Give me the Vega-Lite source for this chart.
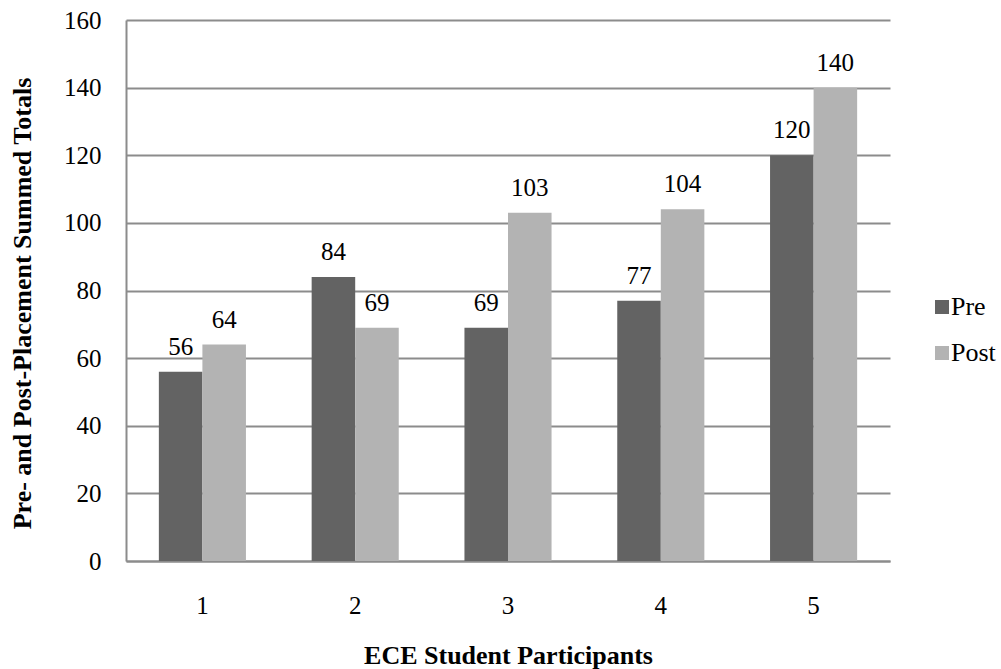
{
  "$schema": "https://vega.github.io/schema/vega-lite/v6.json",
  "autosize": {"type": "none"},
  "width": 764,
  "height": 541,
  "padding": {"left": 126, "top": 20, "right": 111, "bottom": 108},
  "background": "white",
  "config": {
    "view": {"stroke": null},
    "font": "Liberation Serif"
  },
  "data": {
    "values": [
      {"participant": "1", "phase": "Pre", "total": 56},
      {"participant": "1", "phase": "Post", "total": 64},
      {"participant": "2", "phase": "Pre", "total": 84},
      {"participant": "2", "phase": "Post", "total": 69},
      {"participant": "3", "phase": "Pre", "total": 69},
      {"participant": "3", "phase": "Post", "total": 103},
      {"participant": "4", "phase": "Pre", "total": 77},
      {"participant": "4", "phase": "Post", "total": 104},
      {"participant": "5", "phase": "Pre", "total": 120},
      {"participant": "5", "phase": "Post", "total": 140}
    ]
  },
  "encoding": {
    "x": {
      "field": "participant",
      "type": "nominal",
      "scale": {"paddingInner": 0.43, "paddingOuter": 0.215},
      "axis": {
        "title": "ECE Student Participants",
        "labelAngle": 0,
        "labelFont": "Liberation Serif",
        "labelFontSize": 25,
        "labelColor": "black",
        "labelPadding": 32,
        "ticks": false,
        "domainColor": "#8c8c8c",
        "domainWidth": 2,
        "titleFont": "Liberation Serif",
        "titleFontSize": 26,
        "titleFontWeight": "bold",
        "titleColor": "black",
        "titleBaseline": "middle",
        "titleY": 94
      }
    },
    "xOffset": {"field": "phase", "type": "nominal", "sort": ["Pre", "Post"]},
    "y": {
      "field": "total",
      "type": "quantitative",
      "scale": {"domain": [0, 160]},
      "axis": {
        "title": "Pre- and Post-Placement Summed Totals",
        "values": [0, 20, 40, 60, 80, 100, 120, 140, 160],
        "labelFont": "Liberation Serif",
        "labelFontSize": 25,
        "labelColor": "black",
        "labelPadding": 25,
        "ticks": false,
        "domainColor": "#8c8c8c",
        "domainWidth": 2,
        "gridColor": "#8c8c8c",
        "gridWidth": 2,
        "titleFont": "Liberation Serif",
        "titleFontSize": 26,
        "titleFontWeight": "bold",
        "titleColor": "black",
        "titleBaseline": "middle",
        "titleX": -104,
        "titleY": 283
      }
    }
  },
  "layer": [
    {
      "mark": {"type": "bar"},
      "encoding": {
        "color": {
          "field": "phase",
          "type": "nominal",
          "sort": ["Pre", "Post"],
          "scale": {"domain": ["Pre", "Post"], "range": ["#636363", "#b3b3b3"]},
          "legend": {
            "title": null,
            "orient": "none",
            "legendX": 803,
            "legendY": 274,
            "symbolType": "square",
            "symbolSize": 196,
            "symbolStrokeWidth": 0,
            "labelFont": "Liberation Serif",
            "labelFontSize": 26,
            "labelColor": "black",
            "labelLimit": 200,
            "rowPadding": 20,
            "labelOffset": -4
          }
        }
      }
    },
    {
      "mark": {"type": "text", "baseline": "alphabetic", "dy": -17, "font": "Liberation Serif", "fontSize": 25, "color": "black"},
      "encoding": {"text": {"field": "total", "type": "quantitative"}}
    }
  ]
}
